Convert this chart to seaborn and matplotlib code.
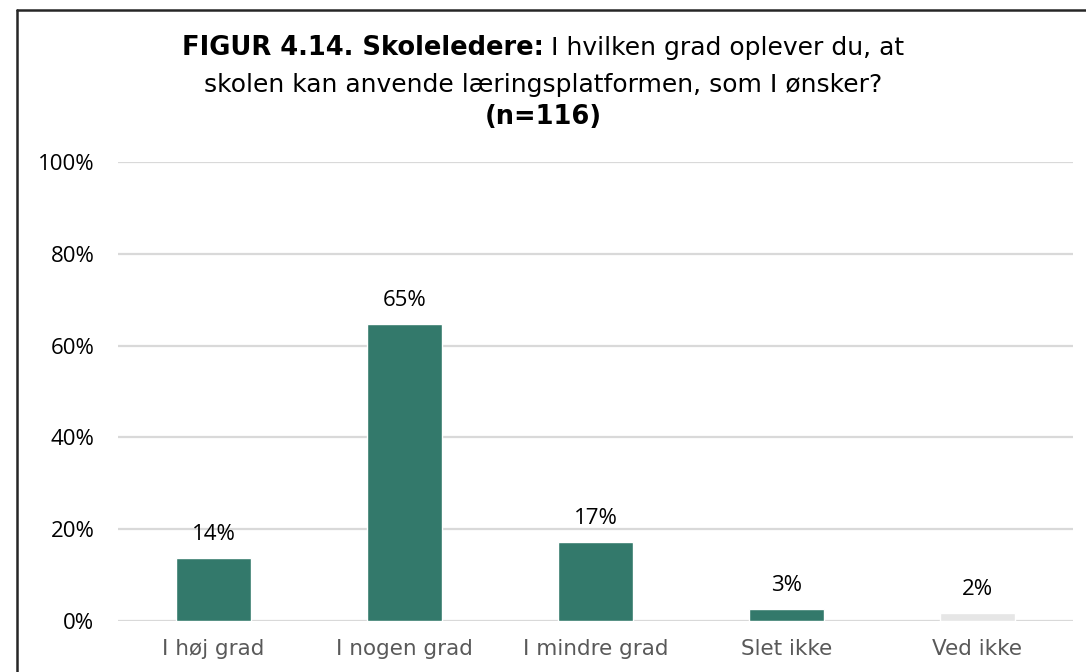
import matplotlib
matplotlib.use("Agg")
import matplotlib.pyplot as plt
import seaborn as sns
import pandas as pd
from matplotlib.lines import Line2D

# data
categories = ["I høj grad", "I nogen grad", "I mindre grad", "Slet ikke", "Ved ikke"]
shares = [0.138, 0.647, 0.172, 0.026, 0.017]
labels = ["14%", "65%", "17%", "3%", "2%"]
bar_colors = ["#33796B", "#33796B", "#33796B", "#33796B", "#E6E6E6"]
yticks = [0, 0.2, 0.4, 0.6, 0.8, 1.0]
ytick_labels = ["0%", "20%", "40%", "60%", "80%", "100%"]

df = pd.DataFrame({"kategori": categories, "andel": shares})

sns.set_style("white")
fig = plt.figure(figsize=(10.86, 6.72), dpi=100)
ax = fig.add_axes([118 / 1086, 51 / 672, 955 / 1086, 459 / 672])

sns.barplot(data=df, x="kategori", y="andel", hue="kategori",
            palette=bar_colors, width=0.39, legend=False, ax=ax, saturation=1)

ax.set_xlim(-0.5, 4.5)
ax.set_ylim(0, 1.0)
ax.set_yticks(yticks)
ax.set_yticklabels(ytick_labels, fontsize=16, family="Open Sans", color="#000000")
ax.set_xticks(range(len(categories)))
ax.set_xticklabels(categories, fontsize=15.5, family="DejaVu Sans", color="#595959")
ax.tick_params(axis="y", length=0, pad=17)
ax.tick_params(axis="x", length=0, pad=13)
ax.set_xlabel("")
ax.set_ylabel("")
for s in ax.spines.values():
    s.set_visible(False)
ax.grid(axis="y", color="#D9D9D9", linewidth=1.6)
ax.set_axisbelow(True)

for i, p in enumerate(ax.patches):
    ax.annotate(labels[i], (p.get_x() + p.get_width() / 2, p.get_height()),
                xytext=(0, 17), textcoords="offset points", ha="center", va="center",
                fontsize=16, family="Open Sans", color="#000000")

# title with bold lead-in
r = fig.canvas.get_renderer()
t1 = fig.text(0, 1 - 48 / 672, "FIGUR 4.14. Skoleledere:", fontsize=18.5, fontweight="bold",
              family="DejaVu Sans", va="center", ha="left", color="#000000")
t2 = fig.text(0, 1 - 48 / 672, " I hvilken grad oplever du, at", fontsize=18,
              family="DejaVu Sans", va="center", ha="left", color="#000000")
w1 = t1.get_window_extent(r).width
w2 = t2.get_window_extent(r).width
x0 = (1086 - (w1 + w2)) / 2
t1.set_x(x0 / 1086)
t2.set_x((x0 + w1) / 1086)
fig.text(0.5, 1 - 85 / 672, "skolen kan anvende læringsplatformen, som I ønsker?", fontsize=18,
         family="DejaVu Sans", va="center", ha="center", color="#000000")
fig.text(0.5, 1 - 117 / 672, "(n=116)", fontsize=18.5, fontweight="bold",
         family="DejaVu Sans", va="center", ha="center", color="#000000")

# outer frame (left and top edges visible)
fig.add_artist(Line2D([17 / 1086, 17 / 1086], [0, 1 - 10 / 672], color="#262626", linewidth=1.8))
fig.add_artist(Line2D([17 / 1086, 1], [1 - 10 / 672, 1 - 10 / 672], color="#262626", linewidth=1.8))

fig.savefig("out.png", dpi=100)
